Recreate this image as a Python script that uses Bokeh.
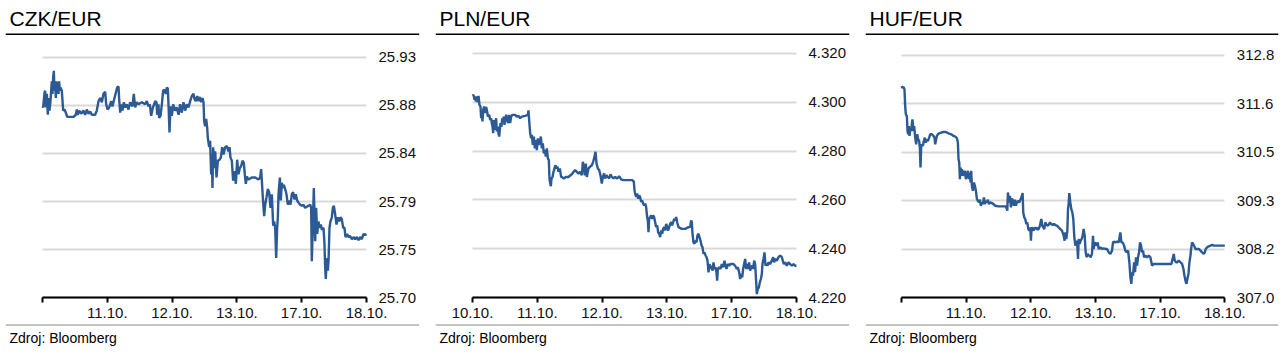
from bokeh.plotting import figure
from bokeh.models import Range1d, LinearAxis, FixedTicker, Grid, Title
from bokeh.layouts import row
from bokeh.embed import file_html
from bokeh.resources import INLINE

# ---------------- data (time in trading-day units, 0 = 10.10.) ----------------
day_ticks = [0, 1, 2, 3, 4, 5]
day_labels_czk = ["", "11.10.", "12.10.", "13.10.", "17.10.", "18.10."]
day_labels_pln = ["10.10.", "11.10.", "12.10.", "13.10.", "17.10.", "18.10."]
day_labels_huf = ["", "11.10.", "12.10.", "13.10.", "17.10.", "18.10."]

czk_ticks = [25.70, 25.746, 25.792, 25.838, 25.884, 25.93]
czk_tick_labels = ["25.70", "25.75", "25.79", "25.84", "25.88", "25.93"]
pln_ticks = [4.22, 4.24, 4.26, 4.28, 4.30, 4.32]
pln_tick_labels = ["4.220", "4.240", "4.260", "4.280", "4.300", "4.320"]
huf_ticks = [307.0, 308.16, 309.32, 310.48, 311.64, 312.8]
huf_tick_labels = ["307.0", "308.2", "309.3", "310.5", "311.6", "312.8"]

czk_time = [
    0.000, 0.010, 0.031, 0.041, 0.051, 0.067, 0.082, 0.093, 0.108, 0.123,
    0.144, 0.154, 0.165, 0.175, 0.185, 0.195, 0.206, 0.216, 0.226, 0.237,
    0.247, 0.257, 0.267, 0.278, 0.298, 0.319, 0.340, 0.360, 0.381, 0.427,
    0.478, 0.514, 0.530, 0.545, 0.566, 0.597, 0.633, 0.658, 0.684, 0.710,
    0.736, 0.761, 0.813, 0.838, 0.864, 0.890, 0.916, 0.941, 0.967, 0.983,
    1.003, 1.029, 1.060, 1.080, 1.111, 1.132, 1.152, 1.173, 1.183, 1.199,
    1.214, 1.235, 1.255, 1.276, 1.301, 1.327, 1.353, 1.389, 1.409, 1.430,
    1.456, 1.481, 1.533, 1.584, 1.610, 1.636, 1.656, 1.677, 1.703, 1.723,
    1.739, 1.759, 1.770, 1.790, 1.800, 1.821, 1.842, 1.862, 1.883, 1.903,
    1.919, 1.934, 1.944, 1.960, 1.975, 1.996, 2.016, 2.047, 2.073, 2.099,
    2.124, 2.150, 2.176, 2.202, 2.227, 2.253, 2.279, 2.305, 2.330, 2.346,
    2.366, 2.387, 2.407, 2.428, 2.449, 2.469, 2.485, 2.495, 2.510, 2.526,
    2.541, 2.551, 2.572, 2.587, 2.603, 2.613, 2.623, 2.634, 2.649, 2.665,
    2.685, 2.706, 2.731, 2.752, 2.773, 2.793, 2.819, 2.845, 2.870, 2.886,
    2.901, 2.922, 2.942, 2.963, 2.984, 3.004, 3.025, 3.045, 3.066, 3.086,
    3.107, 3.122, 3.138, 3.153, 3.179, 3.230, 3.282, 3.333, 3.359, 3.374,
    3.385, 3.400, 3.421, 3.436, 3.457, 3.477, 3.498, 3.519, 3.539, 3.560,
    3.575, 3.591, 3.606, 3.621, 3.632, 3.642, 3.663, 3.678, 3.693, 3.709,
    3.724, 3.745, 3.765, 3.786, 3.807, 3.827, 3.848, 3.868, 3.889, 3.909,
    3.930, 3.951, 3.976, 4.002, 4.028, 4.053, 4.105, 4.131, 4.146, 4.156,
    4.172, 4.187, 4.208, 4.223, 4.239, 4.259, 4.275, 4.295, 4.311, 4.337,
    4.352, 4.362, 4.372, 4.388, 4.403, 4.414, 4.429, 4.444, 4.465, 4.481,
    4.496, 4.516, 4.537, 4.558, 4.578, 4.599, 4.619, 4.640, 4.660, 4.676,
    4.702, 4.722, 4.748, 4.774, 4.799, 4.825, 4.851, 4.877, 4.902, 4.928,
    4.954, 4.979, 5.000,
]
czk_rate = [
    25.883, 25.882, 25.896, 25.898, 25.882, 25.895, 25.875, 25.891, 25.879, 25.888,
    25.907, 25.895, 25.911, 25.917, 25.898, 25.904, 25.891, 25.907, 25.896, 25.906,
    25.895, 25.907, 25.898, 25.901, 25.898, 25.879, 25.880, 25.877, 25.873, 25.873,
    25.873, 25.875, 25.880, 25.875, 25.879, 25.876, 25.879, 25.875, 25.880, 25.876,
    25.878, 25.875, 25.875, 25.879, 25.888, 25.891, 25.887, 25.895, 25.897, 25.885,
    25.880, 25.882, 25.888, 25.883, 25.891, 25.896, 25.901, 25.902, 25.890, 25.877,
    25.885, 25.879, 25.887, 25.882, 25.885, 25.880, 25.887, 25.883, 25.895, 25.882,
    25.887, 25.885, 25.887, 25.885, 25.888, 25.883, 25.885, 25.874, 25.882, 25.885,
    25.888, 25.887, 25.875, 25.885, 25.872, 25.874, 25.885, 25.898, 25.899, 25.895,
    25.901, 25.900, 25.885, 25.858, 25.883, 25.874, 25.885, 25.879, 25.882, 25.875,
    25.885, 25.877, 25.887, 25.879, 25.885, 25.882, 25.888, 25.893, 25.895, 25.890,
    25.888, 25.893, 25.888, 25.892, 25.887, 25.891, 25.887, 25.869, 25.864, 25.871,
    25.863, 25.853, 25.844, 25.850, 25.818, 25.837, 25.805, 25.844, 25.824, 25.840,
    25.815, 25.831, 25.832, 25.834, 25.844, 25.837, 25.844, 25.845, 25.840, 25.844,
    25.834, 25.831, 25.812, 25.821, 25.809, 25.832, 25.818, 25.824, 25.826, 25.831,
    25.829, 25.818, 25.809, 25.816, 25.813, 25.815, 25.815, 25.813, 25.815, 25.823,
    25.812, 25.796, 25.778, 25.789, 25.796, 25.804, 25.801, 25.786, 25.799, 25.769,
    25.773, 25.767, 25.738, 25.766, 25.777, 25.799, 25.815, 25.793, 25.810, 25.805,
    25.808, 25.804, 25.799, 25.789, 25.793, 25.789, 25.799, 25.801, 25.794, 25.799,
    25.793, 25.791, 25.789, 25.788, 25.789, 25.786, 25.788, 25.789, 25.786, 25.735,
    25.770, 25.805, 25.754, 25.786, 25.761, 25.773, 25.767, 25.770, 25.765, 25.767,
    25.751, 25.729, 25.718, 25.738, 25.726, 25.735, 25.767, 25.773, 25.777, 25.786,
    25.788, 25.780, 25.770, 25.777, 25.773, 25.777, 25.775, 25.767, 25.767, 25.758,
    25.761, 25.758, 25.759, 25.756, 25.758, 25.756, 25.758, 25.755, 25.758, 25.756,
    25.761, 25.760, 25.761,
]

pln_time = [
    0.000, 0.015, 0.031, 0.041, 0.051, 0.067, 0.082, 0.093, 0.108, 0.123,
    0.134, 0.144, 0.154, 0.165, 0.180, 0.195, 0.211, 0.226, 0.237, 0.257,
    0.273, 0.288, 0.298, 0.309, 0.319, 0.329, 0.340, 0.350, 0.365, 0.375,
    0.391, 0.401, 0.412, 0.422, 0.432, 0.448, 0.458, 0.468, 0.484, 0.494,
    0.504, 0.520, 0.535, 0.550, 0.566, 0.581, 0.597, 0.617, 0.658, 0.684,
    0.710, 0.736, 0.761, 0.813, 0.854, 0.864, 0.874, 0.890, 0.905, 0.916,
    0.931, 0.947, 0.962, 0.977, 0.993, 1.008, 1.024, 1.039, 1.055, 1.070,
    1.085, 1.101, 1.116, 1.132, 1.147, 1.163, 1.178, 1.188, 1.199, 1.209,
    1.219, 1.235, 1.250, 1.265, 1.281, 1.296, 1.312, 1.327, 1.348, 1.368,
    1.389, 1.409, 1.440, 1.481, 1.512, 1.533, 1.559, 1.584, 1.610, 1.636,
    1.662, 1.687, 1.703, 1.718, 1.734, 1.749, 1.764, 1.790, 1.816, 1.842,
    1.862, 1.883, 1.898, 1.914, 1.934, 1.955, 1.975, 1.996, 2.011, 2.032,
    2.047, 2.068, 2.088, 2.109, 2.130, 2.150, 2.176, 2.202, 2.232, 2.263,
    2.294, 2.330, 2.382, 2.433, 2.469, 2.490, 2.500, 2.510, 2.526, 2.541,
    2.557, 2.572, 2.587, 2.603, 2.618, 2.634, 2.649, 2.665, 2.680, 2.695,
    2.706, 2.716, 2.726, 2.742, 2.757, 2.773, 2.788, 2.803, 2.819, 2.834,
    2.850, 2.865, 2.881, 2.896, 2.912, 2.927, 2.942, 2.958, 2.973, 2.989,
    3.004, 3.020, 3.035, 3.050, 3.066, 3.081, 3.097, 3.112, 3.128, 3.143,
    3.158, 3.179, 3.230, 3.282, 3.333, 3.359, 3.374, 3.385, 3.395, 3.410,
    3.426, 3.441, 3.457, 3.472, 3.488, 3.503, 3.519, 3.534, 3.549, 3.565,
    3.580, 3.596, 3.611, 3.627, 3.642, 3.657, 3.673, 3.688, 3.704, 3.719,
    3.735, 3.750, 3.765, 3.776, 3.786, 3.807, 3.827, 3.848, 3.868, 3.889,
    3.904, 3.920, 3.940, 3.961, 3.981, 4.002, 4.028, 4.053, 4.079, 4.095,
    4.115, 4.131, 4.146, 4.162, 4.177, 4.192, 4.208, 4.223, 4.239, 4.254,
    4.269, 4.285, 4.300, 4.316, 4.331, 4.347, 4.362, 4.378, 4.388, 4.403,
    4.419, 4.434, 4.450, 4.465, 4.475, 4.491, 4.506, 4.522, 4.537, 4.552,
    4.568, 4.594, 4.619, 4.640, 4.655, 4.671, 4.697, 4.722, 4.748, 4.774,
    4.789, 4.805, 4.825, 4.851, 4.877, 4.902, 4.928, 4.954, 4.979, 5.000,
]
pln_rate = [
    4.3026, 4.3030, 4.3010, 4.3023, 4.3003, 4.3023, 4.2999, 4.3026, 4.2989, 4.2982,
    4.2934, 4.2962, 4.2921, 4.2968, 4.2982, 4.2955, 4.2980, 4.2962, 4.2941, 4.2948,
    4.2927, 4.2934, 4.2914, 4.2900, 4.2873, 4.2927, 4.2886, 4.2914, 4.2934, 4.2880,
    4.2900, 4.2873, 4.2859, 4.2886, 4.2914, 4.2900, 4.2934, 4.2921, 4.2941, 4.2907,
    4.2927, 4.2948, 4.2927, 4.2914, 4.2948, 4.2914, 4.2941, 4.2948, 4.2948, 4.2941,
    4.2944, 4.2934, 4.2941, 4.2944, 4.2948, 4.2966, 4.2927, 4.2873, 4.2852, 4.2866,
    4.2825, 4.2859, 4.2811, 4.2845, 4.2804, 4.2852, 4.2825, 4.2838, 4.2859, 4.2811,
    4.2831, 4.2790, 4.2804, 4.2777, 4.2811, 4.2770, 4.2763, 4.2688, 4.2667, 4.2656,
    4.2688, 4.2694, 4.2715, 4.2729, 4.2742, 4.2729, 4.2736, 4.2715, 4.2729, 4.2694,
    4.2692, 4.2688, 4.2694, 4.2694, 4.2701, 4.2705, 4.2715, 4.2722, 4.2715, 4.2708,
    4.2715, 4.2701, 4.2756, 4.2736, 4.2701, 4.2749, 4.2694, 4.2729, 4.2736, 4.2742,
    4.2756, 4.2777, 4.2797, 4.2749, 4.2729, 4.2722, 4.2701, 4.2667, 4.2694, 4.2708,
    4.2688, 4.2701, 4.2694, 4.2688, 4.2705, 4.2694, 4.2688, 4.2694, 4.2688, 4.2697,
    4.2684, 4.2681, 4.2681, 4.2681, 4.2681, 4.2674, 4.2640, 4.2626, 4.2612, 4.2626,
    4.2605, 4.2619, 4.2612, 4.2592, 4.2598, 4.2585, 4.2578, 4.2585, 4.2571, 4.2530,
    4.2516, 4.2468, 4.2523, 4.2530, 4.2537, 4.2523, 4.2537, 4.2530, 4.2509, 4.2489,
    4.2496, 4.2468, 4.2462, 4.2448, 4.2475, 4.2462, 4.2482, 4.2489, 4.2475, 4.2502,
    4.2489, 4.2475, 4.2489, 4.2502, 4.2509, 4.2496, 4.2509, 4.2523, 4.2516, 4.2530,
    4.2509, 4.2489, 4.2482, 4.2482, 4.2489, 4.2489, 4.2516, 4.2509, 4.2462, 4.2427,
    4.2421, 4.2434, 4.2427, 4.2455, 4.2462, 4.2448, 4.2434, 4.2414, 4.2407, 4.2380,
    4.2386, 4.2373, 4.2366, 4.2352, 4.2304, 4.2338, 4.2318, 4.2331, 4.2311, 4.2345,
    4.2318, 4.2325, 4.2304, 4.2270, 4.2318, 4.2325, 4.2318, 4.2338, 4.2325, 4.2352,
    4.2331, 4.2318, 4.2338, 4.2331, 4.2338, 4.2338, 4.2338, 4.2331, 4.2318, 4.2325,
    4.2304, 4.2277, 4.2297, 4.2284, 4.2318, 4.2338, 4.2359, 4.2318, 4.2338, 4.2318,
    4.2345, 4.2311, 4.2325, 4.2331, 4.2318, 4.2352, 4.2338, 4.2263, 4.2215, 4.2236,
    4.2242, 4.2263, 4.2277, 4.2297, 4.2338, 4.2359, 4.2386, 4.2331, 4.2338, 4.2331,
    4.2345, 4.2338, 4.2352, 4.2366, 4.2345, 4.2359, 4.2352, 4.2366, 4.2373, 4.2366,
    4.2352, 4.2338, 4.2345, 4.2331, 4.2345, 4.2338, 4.2331, 4.2338, 4.2331, 4.2331,
]

huf_time = [
    0.000, 0.015, 0.031, 0.046, 0.057, 0.067, 0.083, 0.093, 0.103, 0.114,
    0.124, 0.139, 0.150, 0.160, 0.170, 0.186, 0.196, 0.212, 0.227, 0.243,
    0.258, 0.273, 0.284, 0.294, 0.304, 0.315, 0.330, 0.346, 0.361, 0.377,
    0.392, 0.408, 0.428, 0.444, 0.470, 0.495, 0.511, 0.521, 0.531, 0.547,
    0.562, 0.583, 0.614, 0.650, 0.686, 0.728, 0.769, 0.805, 0.831, 0.851,
    0.862, 0.872, 0.882, 0.893, 0.903, 0.913, 0.924, 0.934, 0.949, 0.965,
    0.980, 0.996, 1.011, 1.027, 1.042, 1.058, 1.068, 1.078, 1.089, 1.104,
    1.120, 1.135, 1.151, 1.166, 1.182, 1.197, 1.213, 1.228, 1.244, 1.259,
    1.275, 1.290, 1.305, 1.321, 1.336, 1.352, 1.373, 1.398, 1.424, 1.450,
    1.502, 1.553, 1.615, 1.636, 1.646, 1.662, 1.677, 1.692, 1.708, 1.723,
    1.739, 1.754, 1.770, 1.785, 1.801, 1.821, 1.842, 1.863, 1.873, 1.883,
    1.899, 1.914, 1.930, 1.945, 1.961, 1.976, 1.992, 2.002, 2.012, 2.028,
    2.043, 2.059, 2.074, 2.090, 2.105, 2.121, 2.141, 2.162, 2.178, 2.193,
    2.208, 2.224, 2.239, 2.255, 2.276, 2.296, 2.317, 2.337, 2.358, 2.379,
    2.405, 2.430, 2.456, 2.482, 2.508, 2.523, 2.534, 2.549, 2.565, 2.575,
    2.585, 2.595, 2.611, 2.626, 2.642, 2.657, 2.673, 2.688, 2.704, 2.719,
    2.730, 2.740, 2.755, 2.771, 2.786, 2.802, 2.817, 2.833, 2.848, 2.864,
    2.879, 2.895, 2.910, 2.926, 2.946, 2.962, 2.972, 2.988, 3.003, 3.019,
    3.034, 3.050, 3.075, 3.101, 3.127, 3.153, 3.179, 3.204, 3.230, 3.256,
    3.271, 3.287, 3.308, 3.333, 3.359, 3.385, 3.400, 3.421, 3.442, 3.462,
    3.483, 3.504, 3.524, 3.540, 3.555, 3.566, 3.581, 3.597, 3.612, 3.627,
    3.643, 3.658, 3.674, 3.689, 3.705, 3.720, 3.736, 3.751, 3.772, 3.798,
    3.824, 3.849, 3.875, 3.901, 3.927, 3.978, 4.030, 4.082, 4.133, 4.174,
    4.195, 4.211, 4.226, 4.247, 4.267, 4.288, 4.314, 4.340, 4.360, 4.376,
    4.391, 4.407, 4.422, 4.438, 4.453, 4.469, 4.479, 4.494, 4.510, 4.525,
    4.546, 4.572, 4.598, 4.624, 4.649, 4.675, 4.690, 4.706, 4.727, 4.752,
    4.778, 4.804, 4.830, 4.856, 4.907, 4.959, 5.000,
]
huf_rate = [
    312.061, 312.021, 312.045, 311.981, 311.584, 311.385, 311.346, 310.988, 310.909, 311.107,
    310.869, 311.068, 310.988, 311.147, 311.266, 310.988, 311.107, 310.829, 310.670, 310.909,
    310.789, 310.750, 310.591, 310.114, 310.591, 310.670, 310.631, 310.750, 310.829, 310.710,
    310.789, 310.750, 310.829, 310.909, 310.909, 310.869, 310.829, 310.670, 310.750, 310.869,
    310.909, 310.933, 310.948, 310.964, 310.964, 310.933, 310.909, 310.869, 310.853, 310.829,
    310.789, 310.710, 310.313, 310.233, 309.836, 310.114, 309.916, 310.074, 309.916, 309.995,
    310.035, 309.836, 309.955, 310.035, 309.836, 309.995, 309.757, 310.035, 309.677, 309.558,
    309.757, 309.677, 309.558, 309.359, 309.320, 309.280, 309.344, 309.200, 309.280, 309.240,
    309.399, 309.240, 309.320, 309.280, 309.344, 309.240, 309.280, 309.264, 309.240, 309.200,
    309.185, 309.185, 309.185, 309.081, 309.518, 309.280, 309.439, 309.161, 309.375, 309.320,
    309.200, 309.344, 309.200, 309.280, 309.320, 309.280, 309.359, 309.439, 309.502, 309.042,
    308.922, 308.883, 308.764, 308.803, 308.644, 308.605, 308.684, 308.366, 308.684, 308.644,
    308.605, 308.684, 308.644, 308.684, 308.628, 308.644, 308.724, 308.883, 308.724, 308.684,
    308.644, 308.803, 308.764, 308.724, 308.740, 308.803, 308.764, 308.740, 308.764, 308.740,
    308.724, 308.684, 308.644, 308.605, 308.485, 308.366, 308.565, 308.406, 308.605, 309.121,
    309.240, 309.502, 309.280, 309.121, 309.042, 308.883, 308.446, 308.247, 308.366, 308.247,
    307.929, 308.406, 308.287, 308.366, 308.406, 308.485, 308.644, 308.485, 308.088, 307.969,
    308.049, 308.009, 308.009, 307.969, 308.049, 308.485, 308.168, 308.326, 308.287, 308.247,
    308.326, 308.168, 308.207, 308.168, 308.184, 308.168, 308.168, 308.088, 308.049, 308.128,
    308.326, 308.342, 308.326, 308.342, 308.326, 308.565, 308.326, 308.326, 308.247, 308.128,
    308.088, 308.128, 307.850, 307.492, 307.333, 307.612, 307.532, 307.850, 307.612, 307.969,
    307.770, 307.969, 308.088, 308.326, 308.247, 308.088, 308.128, 307.969, 308.009, 307.969,
    308.009, 307.969, 307.770, 307.810, 307.810, 307.810, 307.810, 307.810, 307.810, 307.810,
    307.945, 308.049, 307.890, 307.850, 307.850, 307.890, 307.850, 307.810, 307.691, 307.532,
    307.413, 307.333, 307.453, 307.572, 307.850, 308.009, 308.168, 308.326, 308.287, 308.247,
    308.168, 308.168, 308.168, 308.128, 308.088, 308.049, 308.088, 308.168, 308.207, 308.231,
    308.247, 308.263, 308.247, 308.247, 308.247, 308.247, 308.247,
]

# ---------------- styling ----------------
FONT = "Liberation Sans"
LINE_COLOR = "#2b5a94"
TEXT_COLOR = "#111111"


def panel(title, t, v, x_labels, y_ticks, y_labels, xr, yr, width, right_border):
    p = figure(width=width, height=357,
               x_range=Range1d(*xr), y_range=Range1d(*yr),
               output_backend="svg", toolbar_location=None,
               x_axis_location=None, y_axis_location=None,
               min_border_left=5, min_border_right=right_border,
               min_border_top=33, min_border_bottom=32,
               title=title)
    p.center = []
    p.outline_line_color = None
    p.background_fill_color = "white"
    p.border_fill_color = "white"

    p.title.text_font = FONT
    p.title.text_font_size = "21px"
    p.title.text_font_style = "normal"
    p.title.text_color = "#000000"
    p.title.align = "left"
    p.title.offset = 4
    p.title.standoff = 7

    grid = Grid(dimension=1, ticker=FixedTicker(ticks=y_ticks),
                grid_line_color="#d9d9d9", grid_line_width=2,
                cross_bounds=(0, 5))
    p.add_layout(grid, "center")

    # x axis at the bottom of the value range
    xa = LinearAxis(fixed_location=y_ticks[0], bounds=(0, 5),
                    ticker=FixedTicker(ticks=day_ticks),
                    major_label_overrides=dict(zip(day_ticks, x_labels)),
                    axis_line_color="black", axis_line_width=2,
                    major_tick_line_color="black", major_tick_line_width=2,
                    major_tick_in=0, major_tick_out=5,
                    minor_tick_line_color=None, major_label_standoff=5,
                    major_label_text_font=FONT, major_label_text_font_size="15px",
                    major_label_text_color=TEXT_COLOR)
    p.add_layout(xa, "below")

    # value labels at the right end of the series
    ya = LinearAxis(fixed_location=5, ticker=FixedTicker(ticks=y_ticks),
                    major_label_overrides=dict(zip(y_ticks, y_labels)),
                    axis_line_color=None, major_tick_line_color=None,
                    minor_tick_line_color=None, major_tick_in=0, major_tick_out=0,
                    major_label_standoff=12,
                    major_label_text_font=FONT, major_label_text_font_size="15px",
                    major_label_text_color=TEXT_COLOR)
    p.add_layout(ya, "right")

    # heading rule (black) and footer rule (grey)
    top_rule = LinearAxis(fixed_location=yr[1], ticker=FixedTicker(ticks=[]),
                          axis_line_color="black", axis_line_width=3,
                          major_tick_line_color=None, minor_tick_line_color=None,
                          major_label_text_font_size="0px")
    p.add_layout(top_rule, "above")
    bottom_rule = LinearAxis(fixed_location=yr[0], ticker=FixedTicker(ticks=[]),
                             axis_line_color="#8a8a8a", axis_line_width=2,
                             major_tick_line_color=None, minor_tick_line_color=None,
                             major_label_text_font_size="0px")
    p.add_layout(bottom_rule, "below")

    p.line(t, v, line_color=LINE_COLOR, line_width=2.4)

    footer = Title(text="Zdroj: Bloomberg", align="left", offset=4,
                   text_font=FONT, text_font_size="14px", text_font_style="normal",
                   text_color="#000000", standoff=4)
    p.add_layout(footer, "below")
    return p


p1 = panel("CZK/EUR", czk_time, czk_rate, day_labels_czk, czk_ticks, czk_tick_labels,
           (-0.571, 5.818), (25.6735, 25.9527), 430, 11)
p2 = panel("PLN/EUR", pln_time, pln_rate, day_labels_pln, pln_ticks, pln_tick_labels,
           (-0.571, 5.818), (4.20868, 4.32805), 430, 11)
p3 = panel("HUF/EUR", huf_time, huf_rate, day_labels_huf, huf_ticks, huf_tick_labels,
           (-0.5567, 5.8305), (306.338, 313.319), 424, 6)

layout = row(p1, p2, p3, spacing=0)
open("out.html", "w").write(file_html(layout, INLINE))
